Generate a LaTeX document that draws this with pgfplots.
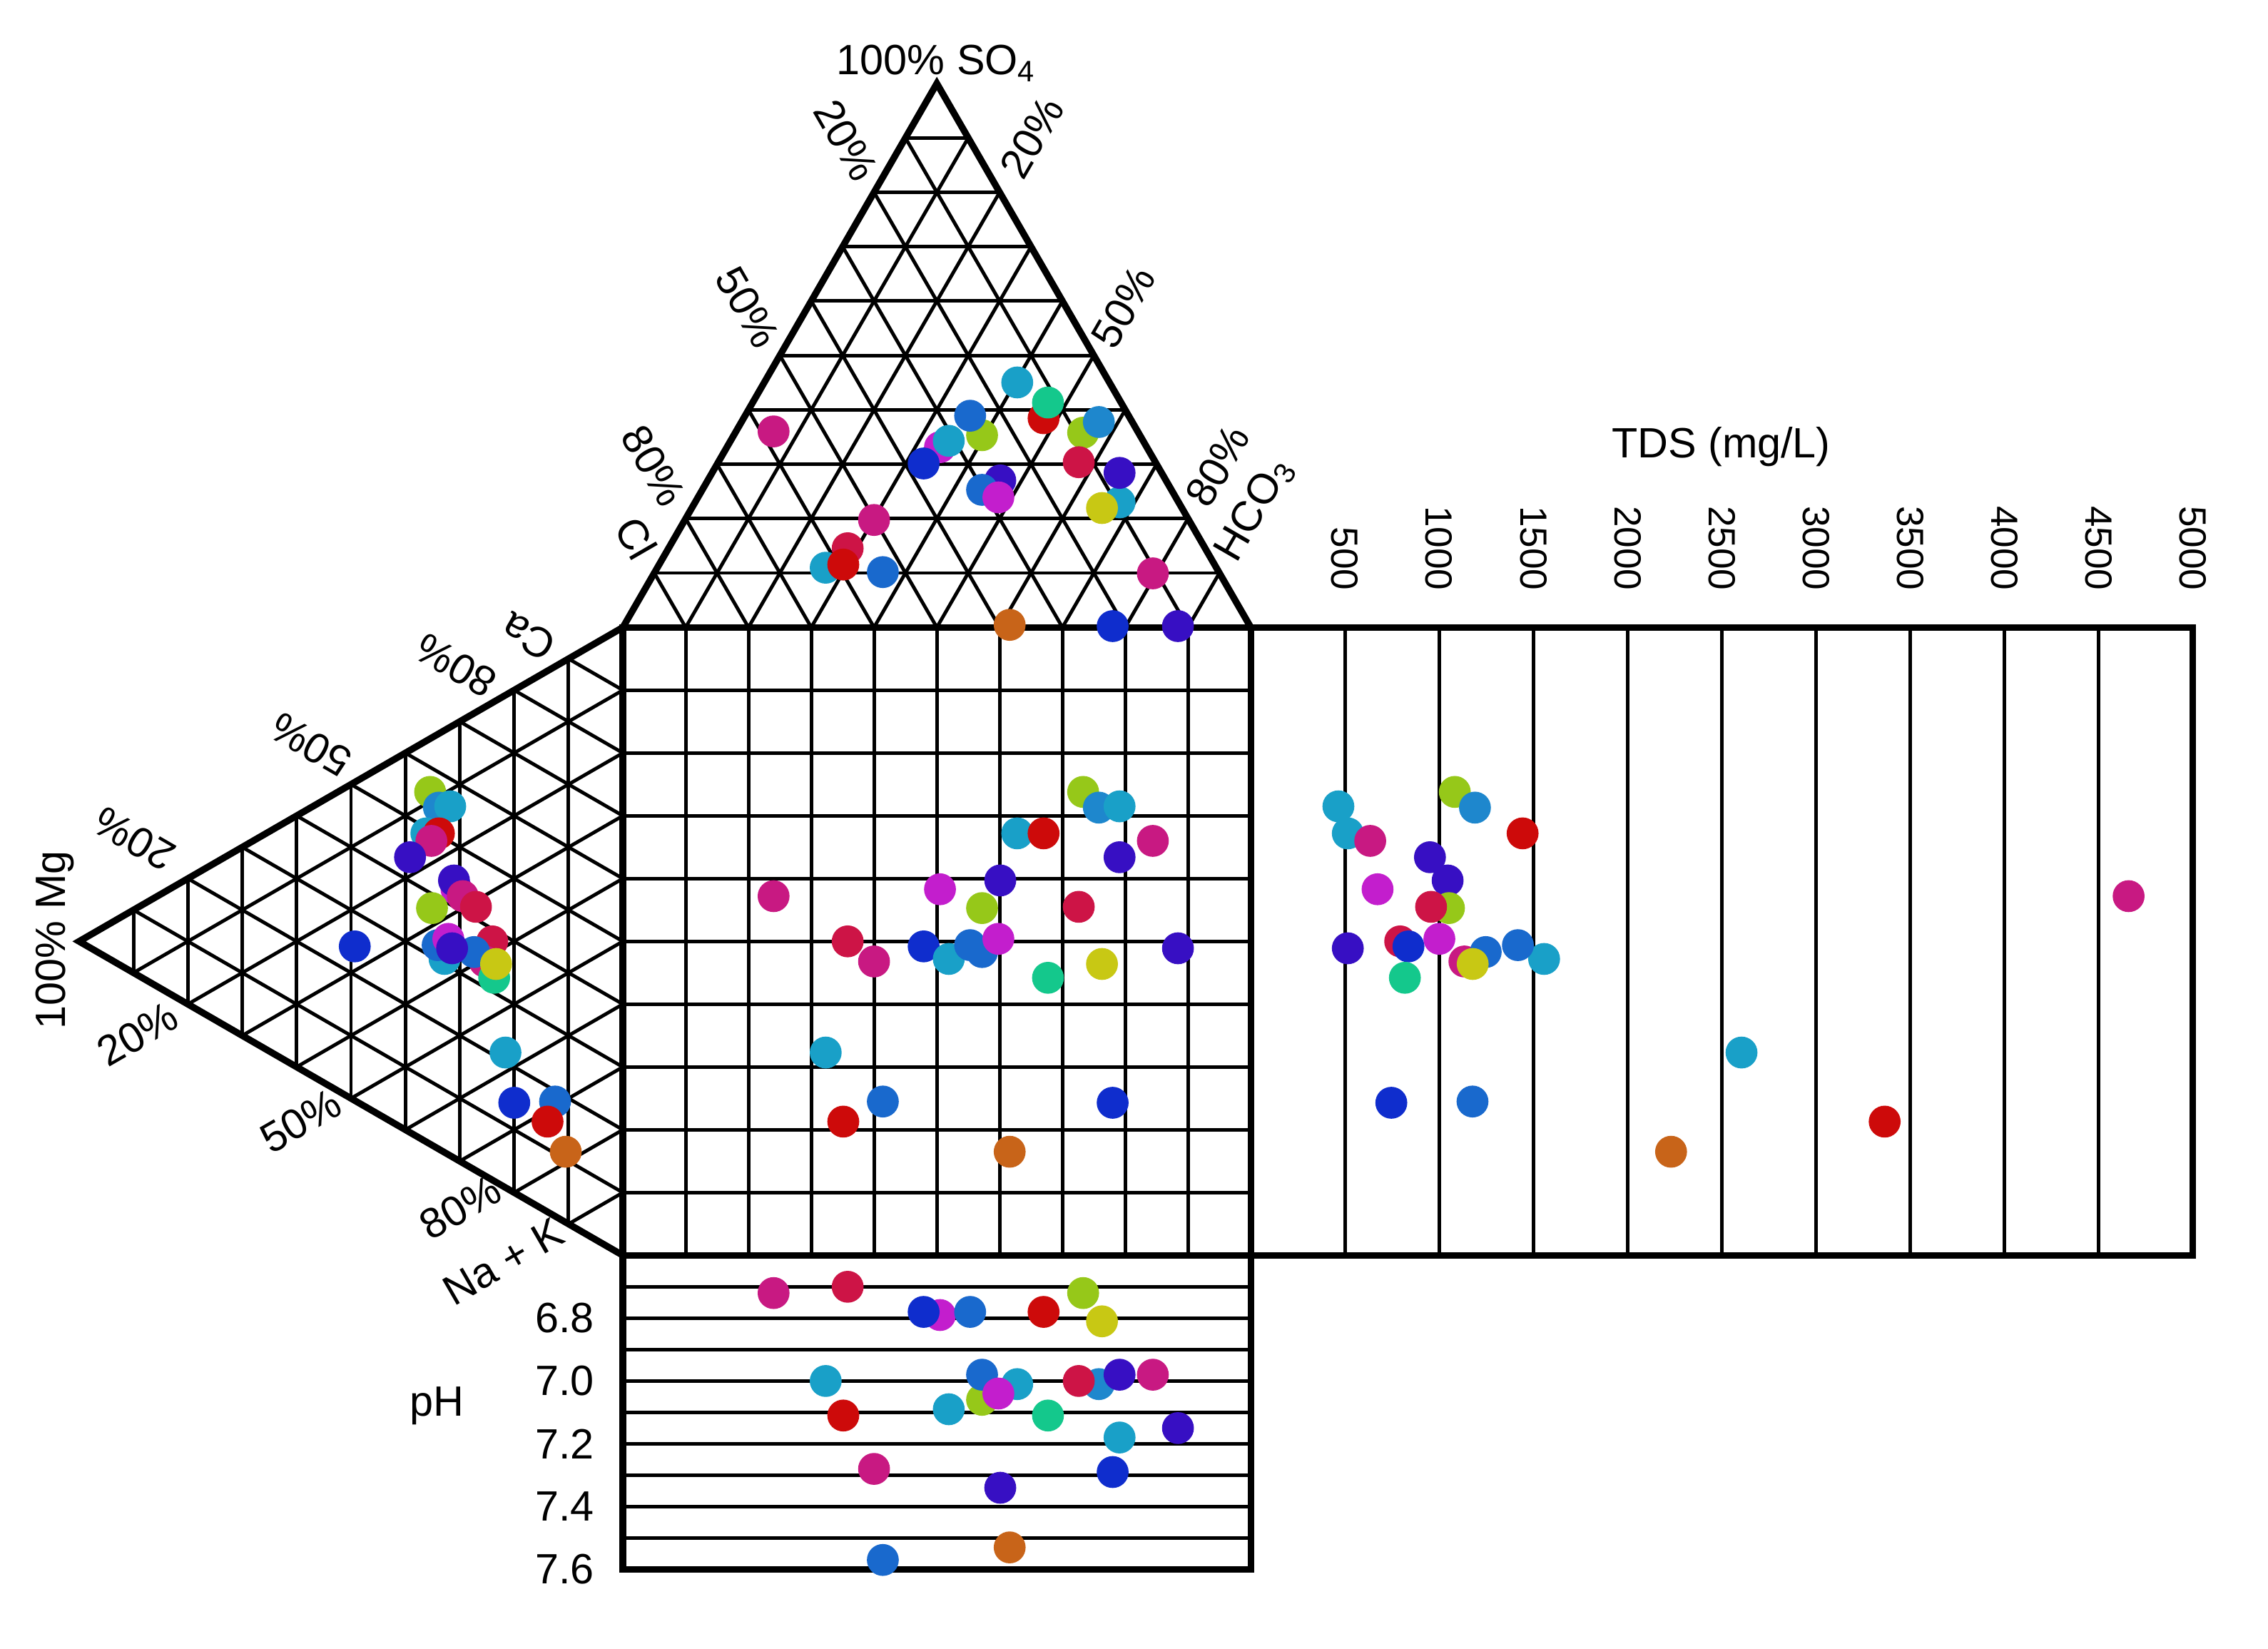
\documentclass[border=0pt]{standalone}
\usepackage{pgfplots}
\usepackage{pgfplotstable}
\usepackage{fontspec}
\setmainfont{Liberation Sans}
\pgfplotsset{compat=1.18}

\definecolor{cpk}{RGB}{200,25,130}
\definecolor{cmg}{RGB}{195,30,205}
\definecolor{ccr}{RGB}{205,20,70}
\definecolor{crd}{RGB}{205,10,10}
\definecolor{cbl}{RGB}{25,105,205}
\definecolor{cbc}{RGB}{30,135,205}
\definecolor{cdb}{RGB}{15,45,205}
\definecolor{cin}{RGB}{55,15,195}
\definecolor{ccy}{RGB}{25,160,200}
\definecolor{cyg}{RGB}{150,200,25}
\definecolor{cyl}{RGB}{200,200,20}
\definecolor{ctl}{RGB}{20,200,140}
\definecolor{cor}{RGB}{200,100,25}

% sx: square x (anions), sy: square y (cations), ty: height in top triangle,
% lx: position in left triangle, tds in mg/L, ph
\pgfplotstableread{
sx   sy   ty    lx     tds   ph   c
7.33 7.38 13.10 -3.07  1083  6.72 yg
7.58 7.13 13.27 -2.93  1190  7.01 bc
7.91 7.15 11.99 -2.75   465  7.18 cy
6.28 6.72 13.90 -3.13   515  7.01 cy
6.70 6.72 13.33 -2.93  1443  6.78 rd
8.44 6.60 10.86 -3.05   634  6.98 pk
7.91 6.34 12.46 -3.39   951  6.98 in
5.05 5.83 12.87 -2.65   673  6.79 mg
6.01 5.97 12.34 -2.69  1045  7.34 in
2.40 5.72 13.12 -2.55  4660  6.72 pk
5.72 5.53 13.06 -3.04  1052  7.06 yg
7.26 5.55 12.63 -2.34   957  7.00 cr
3.58 5.00 11.26 -2.08   793  6.70 cr
4.00 4.68 11.71 -2.20  1134  7.28 pk
4.79 4.92 12.61 -4.27   837  6.78 db
5.19 4.72 12.97 -2.84  1557  7.09 cy
5.53 4.94 13.37 -2.95  1418  6.78 bl
5.72 4.83 12.19 -2.37  1247  6.98 bl
5.98 5.04 12.07 -2.78  1001  7.04 mg
6.77 4.42 13.58 -2.05   818  7.11 tl
7.63 4.64 11.90 -2.02  1178  6.81 yl
8.84 4.89 10.02 -2.72   515  7.15 in
3.23 3.23 10.95 -1.87  2605  7.00 cy
4.14 2.45 10.88 -1.08  1177  7.57 bl
3.51 2.13 11.00 -1.20  3365  7.11 rd
6.16 1.65 10.04 -0.91  2231  7.53 or
7.80 2.43 10.02 -1.73   746  7.29 db
}\samples

\pgfplotsset{
  samp/.style={only marks, scatter, scatter src=explicit symbolic,
    mark=*, mark size=3.0pt,
    scatter/classes={pk={cpk}, mg={cmg}, cr={ccr}, rd={crd}, bl={cbl},
      bc={cbc}, db={cdb}, in={cin}, cy={ccy}, yg={cyg}, yl={cyl},
      tl={ctl}, or={cor}}},
}
\tikzset{
  gridl/.style={black, line width=0.7pt},
  border/.style={black, line width=1.35pt, line join=miter},
}

\begin{document}
\begin{tikzpicture}
\begin{axis}[x=0.4430cm, y=0.4430cm,
  xmin=-9.92, xmax=26.20, ymin=-6.26, ymax=19.99,
  hide axis, clip=false,
  font=\fontsize{8.5}{10}\selectfont]

\path (axis cs:-9.92,-6.26) rectangle (axis cs:26.20,19.99);

% grids
\pgfplotsinvokeforeach{1,...,9}{
  \draw[gridl] (axis cs:#1,0) -- (axis cs:#1,10);
  \draw[gridl] (axis cs:0,#1) -- (axis cs:10,#1);
  \draw[gridl] (axis cs:{#1*0.5},{10+#1*0.8660}) -- (axis cs:{10-#1*0.5},{10+#1*0.8660});
  \draw[gridl] (axis cs:#1,10) -- (axis cs:{(10+#1)/2},{10+(10-#1)*0.8660});
  \draw[gridl] (axis cs:#1,10) -- (axis cs:{#1/2},{10+#1*0.8660});
  \draw[gridl] (axis cs:{-#1*0.8660},{#1*0.5}) -- (axis cs:{-#1*0.8660},{10-#1*0.5});
  \draw[gridl] (axis cs:0,#1) -- (axis cs:{-#1*0.8660},{#1*0.5});
  \draw[gridl] (axis cs:0,#1) -- (axis cs:{-(10-#1)*0.8660},{#1+(10-#1)*0.5});
  \draw[gridl] (axis cs:{10+#1*1.5},0) -- (axis cs:{10+#1*1.5},10);
  \draw[gridl] (axis cs:0,{-#1*0.5}) -- (axis cs:10,{-#1*0.5});
}

% outlines
\draw[border] (axis cs:0,0) rectangle (axis cs:10,10);
\draw[border] (axis cs:0,10) -- (axis cs:5,18.660) -- (axis cs:10,10);
\draw[border] (axis cs:0,10) -- (axis cs:-8.660,5) -- (axis cs:0,0);
\draw[border] (axis cs:10,0) rectangle (axis cs:25,10);
\draw[border] (axis cs:0,0) rectangle (axis cs:10,-5);

% samples
\addplot[samp] table[x=sx, y=sy, meta=c] {\samples};
\addplot[samp] table[x=sx, y=ty, meta=c] {\samples};
\addplot[samp] table[x=lx, y=sy, meta=c] {\samples};
\addplot[samp] table[x expr=10+\thisrow{tds}*0.003, y=sy, meta=c] {\samples};
\addplot[samp] table[x=sx, y expr=-(\thisrow{ph}-6.6)*5, meta=c] {\samples};

% top triangle labels
\node[anchor=base] at (axis cs:5,18.80) {100\% SO\textsubscript{4}};
\node[rotate=-60] at (axis cs:3.55,17.76) {20\%};
\node[rotate=-60] at (axis cs:1.99,15.10) {50\%};
\node[rotate=-60] at (axis cs:0.49,12.57) {80\%};
\node[rotate=-60] at (axis cs:0.21,11.42) {Cl};
\node[rotate=60] at (axis cs:6.51,17.80) {20\%};
\node[rotate=60] at (axis cs:7.97,15.10) {50\%};
\node[rotate=60] at (axis cs:9.47,12.57) {80\%};
\node[rotate=60] at (axis cs:10.07,11.88) {HCO\textsubscript{3}};

% left triangle labels
\node[rotate=150] at (axis cs:-1.51,9.85) {Ca};
\node[rotate=150] at (axis cs:-2.66,9.39) {80\%};
\node[rotate=150] at (axis cs:-4.97,8.13) {50\%};
\node[rotate=150] at (axis cs:-7.78,6.63) {20\%};
\node[rotate=90] at (axis cs:-9.05,5.02) {100\% Mg};
\node[rotate=30] at (axis cs:-7.73,3.52) {20\%};
\node[rotate=30] at (axis cs:-5.13,2.14) {50\%};
\node[rotate=30] at (axis cs:-2.59,0.76) {80\%};
\node[rotate=30] at (axis cs:-1.90,-0.10) {Na + K};

% TDS labels
\node at (axis cs:17.49,12.87) {TDS (mg/L)};
\begin{scope}[font=\fontsize{7.6}{9}\selectfont]
\node[rotate=-90, anchor=east] at (axis cs:11.5,10.31) {500};
\node[rotate=-90, anchor=east] at (axis cs:13.0,10.31) {1000};
\node[rotate=-90, anchor=east] at (axis cs:14.5,10.31) {1500};
\node[rotate=-90, anchor=east] at (axis cs:16.0,10.31) {2000};
\node[rotate=-90, anchor=east] at (axis cs:17.5,10.31) {2500};
\node[rotate=-90, anchor=east] at (axis cs:19.0,10.31) {3000};
\node[rotate=-90, anchor=east] at (axis cs:20.5,10.31) {3500};
\node[rotate=-90, anchor=east] at (axis cs:22.0,10.31) {4000};
\node[rotate=-90, anchor=east] at (axis cs:23.5,10.31) {4500};
\node[rotate=-90, anchor=east] at (axis cs:25.0,10.31) {5000};
\end{scope}

% pH labels
\node[anchor=east] at (axis cs:-0.18,-1) {6.8};
\node[anchor=east] at (axis cs:-0.18,-2) {7.0};
\node[anchor=east] at (axis cs:-0.18,-3) {7.2};
\node[anchor=east] at (axis cs:-0.18,-4) {7.4};
\node[anchor=east] at (axis cs:-0.18,-5) {7.6};
\node at (axis cs:-2.96,-2.40) {pH};

\end{axis}
\end{tikzpicture}
\end{document}
